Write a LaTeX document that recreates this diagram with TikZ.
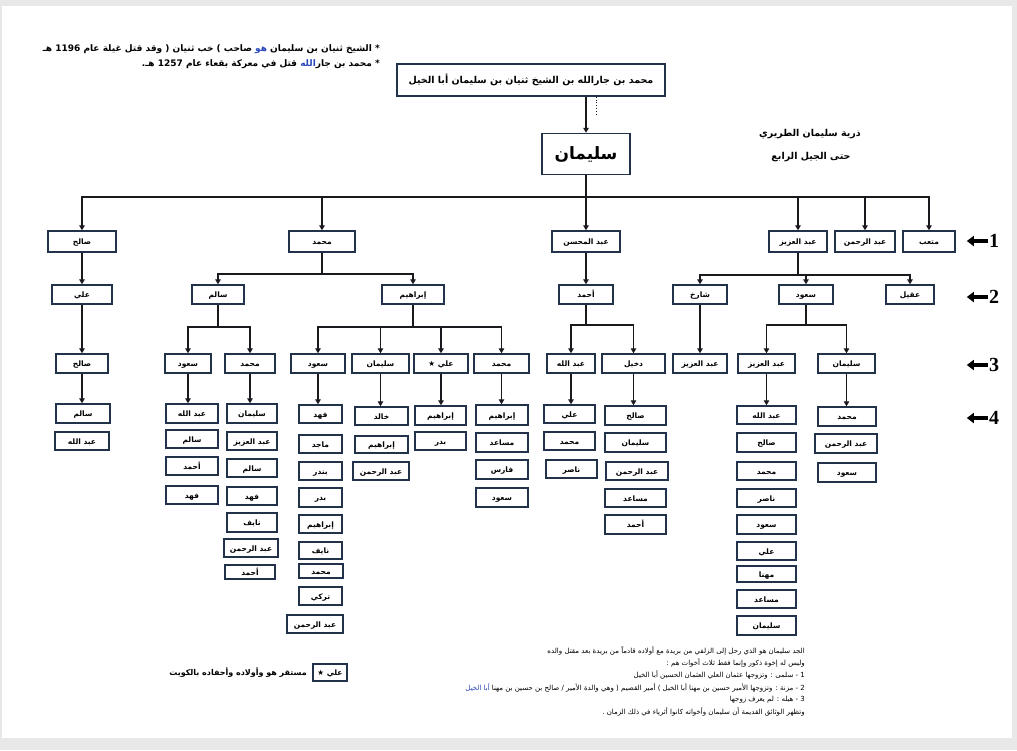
\documentclass[tikz,border=0pt]{standalone}
\usepackage{fontspec}
\usetikzlibrary{arrows.meta,calc}
\TeXXeTstate=1
\newfontfamily\ar[Script=Arabic]{DejaVu Sans}
\newfontfamily\ser{Liberation Serif}
\definecolor{boxc}{RGB}{35,50,75}
\definecolor{linec}{RGB}{25,25,30}
\definecolor{hblue}{RGB}{40,70,190}
\tikzset{
  box/.style={draw=boxc,line width=1.4pt,fill=white,inner sep=0pt,text height=7.5pt,text depth=1.5pt,font=\ar\bfseries\fontsize{7.5}{9}\selectfont},
  ln/.style={draw=linec,line width=1.9pt},
  arr/.style={ln,-{Triangle[length=5pt,width=5.5pt]}},
  mk/.style={draw=black,line width=3.8pt,-{Triangle[length=7pt,width=10pt]}},
  mknum/.style={font=\ser\bfseries\fontsize{20}{20}\selectfont,inner sep=0pt},
  note/.style={font=\ar\fontsize{7}{9}\selectfont,inner sep=0pt,anchor=east},
  legnote/.style={font=\ar\bfseries\fontsize{8}{9}\selectfont,inner sep=0pt,anchor=east},
  topnote/.style={font=\ar\bfseries\fontsize{9}{10}\selectfont,inner sep=0pt,anchor=east},
}
\newcommand\B[6]{\node[box,minimum width={#4-#2},minimum height={#5-#3}] (#1) at ({(#2+#4)/2},{(#3+#5)/2}) {#6};}
\begin{document}
\begin{tikzpicture}[x=1pt,y=-1pt]
\useasboundingbox (0,0) rectangle (1017,750);
\fill[gray!18] (0,0) rectangle (1017,750);
\fill[white] (2,6) rectangle (1012,738);

% top notes
\node[topnote] (n1) at (380,49) {{\beginR صاحب ) خب ثنيان ( وقد قتل غيلة عام 1196 هـ\endR}\ {\color{hblue}هو}\ {\beginR * الشيخ ثنيان بن سليمان\endR}};
\node[topnote] (n2) at (380,64) {.{\beginR قتل في معركة بقعاء عام 1257 هـ\endR}\ {\color{hblue}الله}{\beginR * محمد بن جار\endR}};

% title
\node[font=\ar\bfseries\fontsize{9.5}{11}\selectfont] (t1) at (810,134) {\beginR ذرية سليمان الطريري\endR};
\node[font=\ar\bfseries\fontsize{9.5}{11}\selectfont] (t2) at (811,157) {\beginR حتى الجيل الرابع\endR};

% root
\node[box,line width=1.5pt,minimum width=268,minimum height=32,text height=8pt,text depth=2pt,font=\ar\bfseries\fontsize{9.5}{11}\selectfont] (top) at (531,80) {\beginR محمد بن جارالله بن الشيخ ثنيان بن سليمان أبا الخيل\endR};
\node[box,line width=1.5pt,minimum width=88,minimum height=41,text height=13pt,text depth=3pt,font=\ar\bfseries\fontsize{17}{18}\selectfont] (sul) at (586,154) {\beginR سليمان\endR};
\draw[arr] (top.south -| sul.north) -- (sul.north);
\draw[linec,dotted,line width=0.8pt] ([xshift=10pt]top.south -| sul.north) -- ++(0,18);

% level 1
\B{l1a}{48}{231}{116}{252}{\beginR صالح\endR}
\B{l1b}{289}{231}{355}{252}{\beginR محمد\endR}
\B{l1c}{552}{231}{620}{252}{\beginR عبد المحسن\endR}
\B{l1d}{769}{231}{827}{252}{\beginR عبد العزيز\endR}
\B{l1e}{835}{231}{895}{252}{\beginR عبد الرحمن\endR}
\B{l1f}{903}{231}{955}{252}{\beginR متعب\endR}
\draw[ln] (sul.south) -- ++(0,22) coordinate (b0);
\foreach \c in {l1a,l1b,l1c,l1d,l1e,l1f} \draw[arr] (b0) -| (\c.north);

% level 2
\B{l2a}{52}{285}{112}{304}{\beginR علي\endR}
\B{l2b}{192}{285}{244}{304}{\beginR سالم\endR}
\B{l2c}{382}{285}{444}{304}{\beginR إبراهيم\endR}
\B{l2d}{559}{285}{613}{304}{\beginR أحمد\endR}
\B{l2e}{673}{285}{727}{304}{\beginR شارخ\endR}
\B{l2f}{779}{285}{833}{304}{\beginR سعود\endR}
\B{l2g}{886}{285}{934}{304}{\beginR عقيل\endR}
\draw[arr] (l1a.south) -- (l1a.south |- l2a.north);
\draw[arr] (l1c.south) -- (l1c.south |- l2d.north);
\draw[ln] (l1b.south) -- ++(0,21) coordinate (b1);
\foreach \c in {l2b,l2c} \draw[arr] (b1) -| (\c.north);
\draw[ln] (l1d.south) -- ++(0,22) coordinate (b2);
\foreach \c in {l2e,l2f,l2g} \draw[arr] (b2) -| (\c.north);

% level 3
\B{l3a}{56}{354}{108}{373}{\beginR صالح\endR}
\B{l3b}{165}{354}{211}{373}{\beginR سعود\endR}
\B{l3c}{225}{354}{275}{373}{\beginR محمد\endR}
\B{l3d}{291}{354}{345}{373}{\beginR سعود\endR}
\B{l3e}{352}{354}{409}{373}{\beginR سليمان\endR}
\B{l3f}{414}{354}{468}{373}{\beginR علي ★\endR}
\B{l3g}{474}{354}{529}{373}{\beginR محمد\endR}
\B{l3h}{547}{354}{595}{373}{\beginR عبد الله\endR}
\B{l3i}{602}{354}{665}{373}{\beginR دخيل\endR}
\B{l3j}{673}{354}{727}{373}{\beginR عبد العزيز\endR}
\B{l3k}{738}{354}{795}{373}{\beginR عبد العزيز\endR}
\B{l3l}{818}{354}{875}{373}{\beginR سليمان\endR}
\draw[arr] (l2a.south) -- (l2a.south |- l3a.north);
\draw[arr] (l2e.south) -- (l2e.south |- l3j.north);
\draw[ln] (l2b.south) -- ++(0,22) coordinate (b3);
\foreach \c in {l3b,l3c} \draw[arr] (b3) -| (\c.north);
\draw[ln] (l2c.south) -- ++(0,22) coordinate (b4);
\foreach \c in {l3d,l3e,l3f,l3g} \draw[arr] (b4) -| (\c.north);
\draw[ln] (l2d.south) -- ++(0,20) coordinate (b5);
\foreach \c in {l3h,l3i} \draw[arr] (b5) -| (\c.north);
\draw[ln] (l2f.south) -- ++(0,20) coordinate (b6);
\foreach \c in {l3k,l3l} \draw[arr] (b6) -| (\c.north);

% level 4
\B{c1a}{56}{404}{110}{423}{\beginR سالم\endR}
\B{c1b}{55}{432}{109}{450}{\beginR عبد الله\endR}

\B{c2a}{166}{404}{218}{423}{\beginR عبد الله\endR}
\B{c2b}{166}{430}{218}{448}{\beginR سالم\endR}
\B{c2c}{166}{457}{218}{475}{\beginR أحمد\endR}
\B{c2d}{166}{486}{218}{504}{\beginR فهد\endR}

\B{c3a}{227}{404}{277}{423}{\beginR سليمان\endR}
\B{c3b}{227}{432}{277}{450}{\beginR عبد العزيز\endR}
\B{c3c}{227}{459}{277}{477}{\beginR سالم\endR}
\B{c3d}{227}{487}{277}{505}{\beginR فهد\endR}
\B{c3e}{227}{513}{277}{532}{\beginR نايف\endR}
\B{c3f}{224}{539}{278}{557}{\beginR عبد الرحمن\endR}
\B{c3g}{225}{565}{275}{579}{\beginR أحمد\endR}

\B{c4a}{299}{405}{342}{423}{\beginR فهد\endR}
\B{c4b}{299}{435}{342}{453}{\beginR ماجد\endR}
\B{c4c}{299}{462}{342}{480}{\beginR بندر\endR}
\B{c4d}{299}{488}{342}{507}{\beginR بدر\endR}
\B{c4e}{299}{515}{342}{533}{\beginR إبراهيم\endR}
\B{c4f}{299}{542}{342}{559}{\beginR نايف\endR}
\B{c4g}{299}{564}{343}{578}{\beginR محمد\endR}
\B{c4h}{299}{587}{342}{605}{\beginR تركي\endR}
\B{c4i}{287}{615}{343}{633}{\beginR عبد الرحمن\endR}

\B{c5a}{355}{407}{408}{425}{\beginR خالد\endR}
\B{c5b}{355}{436}{408}{453}{\beginR إبراهيم\endR}
\B{c5c}{353}{462}{409}{480}{\beginR عبد الرحمن\endR}

\B{c6a}{415}{406}{466}{425}{\beginR إبراهيم\endR}
\B{c6b}{415}{432}{466}{450}{\beginR بدر\endR}

\B{c7a}{476}{405}{528}{425}{\beginR إبراهيم\endR}
\B{c7b}{476}{433}{528}{452}{\beginR مساعد\endR}
\B{c7c}{476}{460}{528}{479}{\beginR فارس\endR}
\B{c7d}{476}{488}{528}{507}{\beginR سعود\endR}

\B{c8a}{544}{405}{595}{423}{\beginR علي\endR}
\B{c8b}{544}{432}{595}{450}{\beginR محمد\endR}
\B{c8c}{546}{460}{597}{478}{\beginR ناصر\endR}

\B{c9a}{605}{406}{666}{425}{\beginR صالح\endR}
\B{c9b}{605}{433}{666}{452}{\beginR سليمان\endR}
\B{c9c}{606}{462}{668}{480}{\beginR عبد الرحمن\endR}
\B{c9d}{605}{489}{666}{507}{\beginR مساعد\endR}
\B{c9e}{605}{515}{666}{534}{\beginR أحمد\endR}

\B{c10a}{737}{406}{796}{424}{\beginR عبد الله\endR}
\B{c10b}{737}{433}{796}{452}{\beginR صالح\endR}
\B{c10c}{737}{462}{796}{480}{\beginR محمد\endR}
\B{c10d}{737}{489}{796}{507}{\beginR ناصر\endR}
\B{c10e}{737}{515}{796}{534}{\beginR سعود\endR}
\B{c10f}{737}{542}{796}{560}{\beginR علي\endR}
\B{c10g}{737}{566}{796}{582}{\beginR مهنا\endR}
\B{c10h}{737}{590}{796}{608}{\beginR مساعد\endR}
\B{c10i}{737}{616}{796}{635}{\beginR سليمان\endR}

\B{c11a}{818}{407}{876}{426}{\beginR محمد\endR}
\B{c11b}{815}{434}{877}{453}{\beginR عبد الرحمن\endR}
\B{c11c}{818}{463}{876}{482}{\beginR سعود\endR}

\draw[arr] (l3a.south) -- (l3a.south |- c1a.north);
\draw[arr] (l3b.south) -- (l3b.south |- c2a.north);
\draw[arr] (l3c.south) -- (l3c.south |- c3a.north);
\draw[arr] (l3d.south) -- (l3d.south |- c4a.north);
\draw[arr] (l3e.south) -- (l3e.south |- c5a.north);
\draw[arr] (l3f.south) -- (l3f.south |- c6a.north);
\draw[arr] (l3g.south) -- (l3g.south |- c7a.north);
\draw[arr] (l3h.south) -- (l3h.south |- c8a.north);
\draw[arr] (l3i.south) -- (l3i.south |- c9a.north);
\draw[arr] (l3k.south) -- (l3k.south |- c10a.north);
\draw[arr] (l3l.south) -- (l3l.south |- c11a.north);

% generation markers
\node[mknum] (m1) at (994,241) {1};
\node[mknum] (m2) at (994,297) {2};
\node[mknum] (m3) at (994,365) {3};
\node[mknum] (m4) at (994,418) {4};
\foreach \m in {m1,m2,m3,m4} \draw[mk] ([xshift=-1pt]\m.west) -- ([xshift=-22pt]\m.west);

% legend
\B{leg}{313}{664}{347}{681}{\beginR علي ★\endR}
\node[legnote] (legt) at (307,672) {\beginR مستقر هو وأولاده وأحفاده بالكويت\endR};

% bottom notes
\node[note] (bn1) at (805,651) {\beginR الجد سليمان هو الذي رحل إلى الزلفي من بريدة مع أولاده قادماً من بريدة بعد مقتل والده\endR};
\node[note] (bn2) at (805,663) {\beginR وليس له إخوة ذكور وإنما فقط ثلاث أخوات هم :\endR};
\node[note] (bn3) at (805,675) {\beginR 1 - سلمى : وتزوجها عثمان العلي العثمان الحسين أبا الخيل\endR};
\node[note] (bn4) at (805,688) {{\color{hblue}\beginR أبا الخيل\endR}\ {\beginR 2 - مزنة : وتزوجها الأمير حسين بن مهنا أبا الخيل ) أمير القصيم ( وهي والدة الأمير / صالح بن حسين بن مهنا\endR}};
\node[note] (bn5) at (805,700) {\beginR 3 - هيله : لم يعرف زوجها\endR};
\node[note] (bn6) at (805,712) {.\ {\beginR وتظهر الوثائق القديمة أن سليمان وأخواته كانوا أثرياء في ذلك الزمان\endR}};
\end{tikzpicture}
\end{document}
